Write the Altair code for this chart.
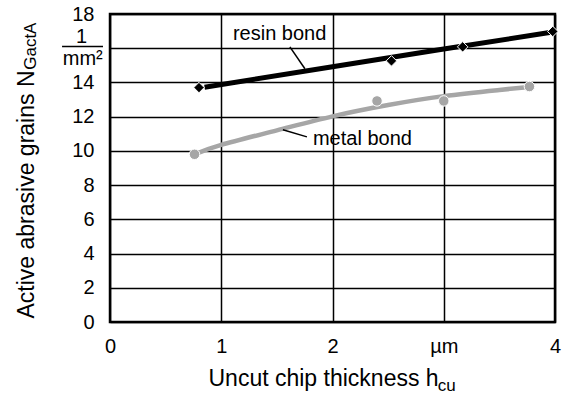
import altair as alt
import pandas as pd

FONT = "Liberation Sans"

# Measured points
resin_x = [0.80, 2.53, 3.17, 3.98]
resin_y = [13.70, 15.26, 16.08, 16.98]
metal_x = [0.76, 2.40, 3.00, 3.77]
metal_y = [9.80, 12.92, 12.92, 13.76]

# Fitted trend curves
resin_fit_x = [0.85, 2.0, 3.0, 3.98]
resin_fit_y = [13.72, 14.92, 15.95, 16.95]
metal_fit_x = [0.76, 1.0, 1.5, 2.0, 2.5, 3.0, 3.5, 3.77]
metal_fit_y = [9.80, 10.35, 11.20, 12.02, 12.68, 13.20, 13.56, 13.74]

x_ticks = [0, 1, 2, 3, 4]
y_ticks = [0, 2, 4, 6, 8, 10, 12, 14, 16, 18]

# Annotations (data units)
label_text = ["resin bond", "metal bond"]
label_x = [1.105, 1.824]
label_y = [16.84, 10.70]
leader_x = [1.617, 1.554]
leader_y = [16.08, 11.23]
leader_x2 = [1.752, 1.770]
leader_y2 = [14.80, 10.82]

xs = alt.Scale(domain=[0, 4], nice=False, zero=False)
ys = alt.Scale(domain=[0, 18], nice=False, zero=False)

pts = pd.DataFrame({"x": resin_x + metal_x, "y": resin_y + metal_y,
                    "s": ["resin"] * len(resin_x) + ["metal"] * len(metal_x)})
resin_fit = pd.DataFrame({"x": resin_fit_x, "y": resin_fit_y})
metal_fit = pd.DataFrame({"x": metal_fit_x, "y": metal_fit_y})
labels = pd.DataFrame({"t": label_text, "x": label_x, "y": label_y})
leaders = pd.DataFrame({"x": leader_x, "y": leader_y, "x2": leader_x2, "y2": leader_y2})

x_axis = alt.Axis(values=x_ticks, format="d",
                  labelExpr="datum.value == 3 ? 'µm' : datum.label",
                  grid=True, gridColor="black", gridWidth=1.5, gridOpacity=1,
                  domain=False, ticks=False, labelPadding=14, labelFontSize=20,
                  labelFont=FONT, labelColor="black", labelFlush=False, labelOverlap=False,
                  title="Uncut chip thickness h", titleFont=FONT, titleFontSize=23,
                  titleFontWeight="normal", titleColor="black", titleAlign="left",
                  titleAnchor="start", titleX=98, titleY=63, titleBaseline="alphabetic")
y_axis = alt.Axis(values=y_ticks, format="d",
                  labelExpr="datum.value == 16 ? '' : datum.label",
                  grid=True, gridColor="black", gridWidth=1.5, gridOpacity=1,
                  domain=False, ticks=False, labelPadding=16, labelFontSize=20,
                  labelFont=FONT, labelColor="black", labelFlush=False, labelOverlap=False,
                  title="Active abrasive grains N", titleFont=FONT, titleFontSize=23,
                  titleFontWeight="normal", titleColor="black", titleAngle=270,
                  titleAlign="left", titleX=-77, titleY=304, titleBaseline="alphabetic")

X = lambda: alt.X("x:Q", scale=xs, axis=x_axis)
Y = lambda: alt.Y("y:Q", scale=ys, axis=y_axis)

metal_line = alt.Chart(metal_fit).mark_line(color="#a6a6a6", strokeWidth=4.5,
                                             interpolate="natural").encode(x=X(), y=Y())
resin_line = alt.Chart(resin_fit).mark_line(color="black", strokeWidth=5).encode(x=X(), y=Y())

resin_pts = alt.Chart(pts[pts.s == "resin"]).mark_point(
    shape="diamond", filled=True, size=110, color="black", stroke="white",
    strokeWidth=1, opacity=1).encode(x=X(), y=Y())
metal_pts = alt.Chart(pts[pts.s == "metal"]).mark_point(
    shape="circle", filled=True, size=110, color="#a6a6a6", stroke="white",
    strokeWidth=1, opacity=1).encode(x=X(), y=Y())

label_marks = alt.Chart(labels).mark_text(font=FONT, fontSize=20, align="left",
                                          baseline="middle", color="black").encode(
    x=X(), y=Y(), text="t:N")
leader_marks = alt.Chart(leaders).mark_rule(color="black", strokeWidth=1.5).encode(
    x=X(), y=Y(), x2="x2:Q", y2="y2:Q")

# Unit fraction 1/mm² replacing the 16 label, and subscripts
frac_text = pd.DataFrame({"t": ["1", "mm²"], "x": [-0.255, -0.245], "y": [16.32, 15.03]})
frac_bar = pd.DataFrame({"x": [-0.431], "x2": [-0.063], "y": [16.1]})
sub_h = pd.DataFrame({"t": ["cu"], "x": [2.947], "y": [-4.02]})
sub_n = pd.DataFrame({"t": ["GactA"], "x": [-0.665], "y": [14.74]})

frac_marks = alt.Chart(frac_text).mark_text(font=FONT, fontSize=20, align="center",
                                            baseline="alphabetic", color="black").encode(
    x=X(), y=Y(), text="t:N")
frac_rule = alt.Chart(frac_bar).mark_rule(color="black", strokeWidth=1.5).encode(
    x=X(), x2="x2:Q", y=Y())
sub_h_mark = alt.Chart(sub_h).mark_text(font=FONT, fontSize=17, align="left",
                                        baseline="alphabetic", color="black").encode(
    x=X(), y=Y(), text="t:N")
sub_n_mark = alt.Chart(sub_n).mark_text(font=FONT, fontSize=17, align="left",
                                        baseline="alphabetic", angle=270, color="black").encode(
    x=X(), y=Y(), text="t:N")

chart = alt.layer(
    metal_line, resin_line, resin_pts, metal_pts, leader_marks, label_marks,
    frac_marks, frac_rule, sub_h_mark, sub_n_mark,
).properties(
    width=445, height=308,
    autosize=alt.AutoSizeParams(type="none"),
    padding={"left": 110, "top": 14, "right": 10, "bottom": 75},
    background="white",
).configure_view(stroke="black", strokeWidth=2.5)

chart.save("out.html", embed_options={"renderer": "svg", "actions": False})
